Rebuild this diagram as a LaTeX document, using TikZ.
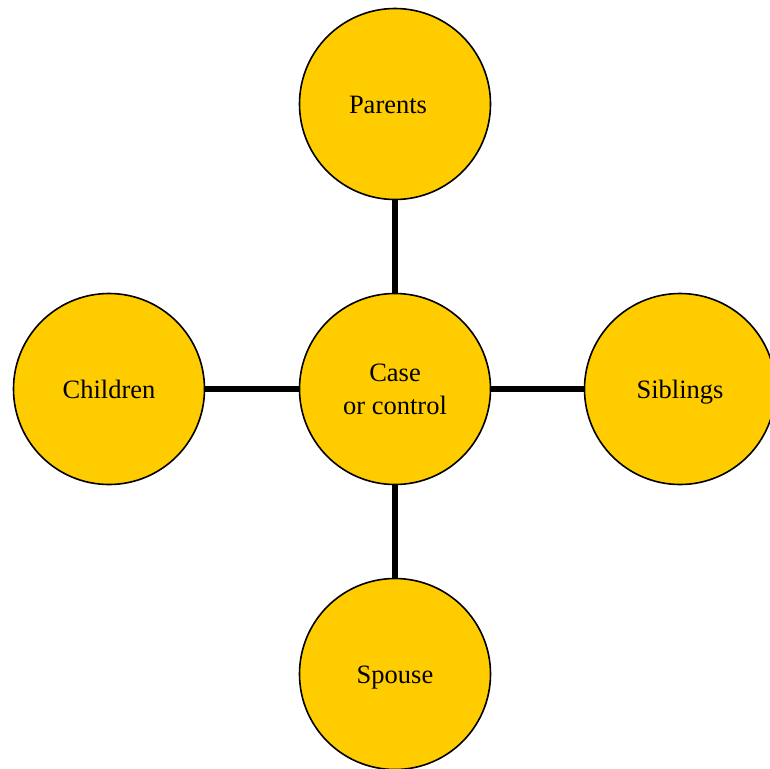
\documentclass[tikz,border=0pt]{standalone}
\usepackage{fontspec}
\setmainfont{Liberation Serif}
\definecolor{gold}{HTML}{FFCC00}
\begin{document}
\begin{tikzpicture}[x=1pt,y=-1pt,
  blob/.style={circle,draw=black,line width=1.6pt,fill=gold,minimum size=191pt,inner sep=0pt,
    font=\fontsize{26.5}{33}\selectfont,align=center,text height=18pt,text depth=0pt},
  link/.style={line width=5.5pt,draw=black}]
\useasboundingbox (0,0) rectangle (770,768);
\node[blob,text height=51pt] (case) at (395,389) {Case\\or control};
\node[blob] (parents) at (395,104) {Parents\hspace*{14pt}};
\node[blob] (children) at (109,389) {Children};
\node[blob] (siblings) at (680,389) {Siblings};
\node[blob] (spouse) at (395,674) {Spouse};
\draw[link] (case) -- (parents);
\draw[link] (case) -- (children);
\draw[link] (case) -- (siblings);
\draw[link] (case) -- (spouse);
\end{tikzpicture}
\end{document}
